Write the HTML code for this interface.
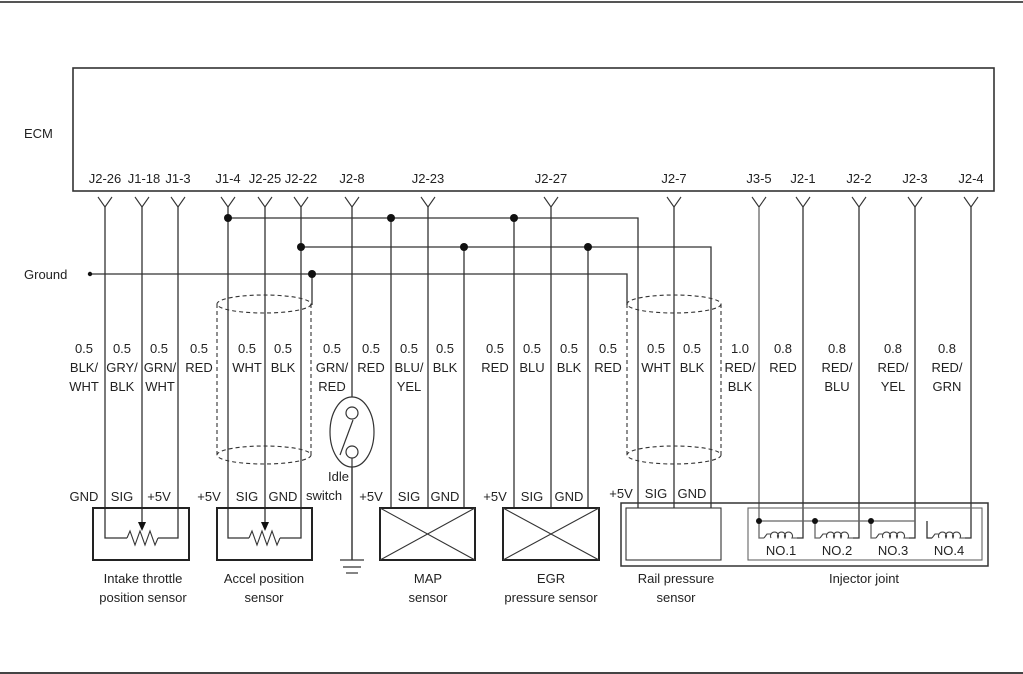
<!DOCTYPE html>
<html><head><meta charset="utf-8"><style>
html,body{margin:0;padding:0;background:#fff;}
svg{display:block;}
text{font-family:"Liberation Sans",sans-serif;font-size:13px;fill:#222;}
</style></head><body>
<svg width="1023" height="674" viewBox="0 0 1023 674" xmlns="http://www.w3.org/2000/svg">
<g stroke="#333" fill="none" stroke-width="1.2">
<line x1="0" y1="2" x2="1023" y2="2" stroke-width="2" stroke="#555"/>
<line x1="0" y1="673" x2="1023" y2="673" stroke-width="2" stroke="#444"/>
<rect x="73" y="68" width="921" height="123" stroke-width="1.6"/>
</g>
<text x="24" y="138">ECM</text>
<g text-anchor="middle">
<text x="105" y="183">J2-26</text><text x="144" y="183">J1-18</text><text x="178" y="183">J1-3</text>
<text x="228" y="183">J1-4</text><text x="265" y="183">J2-25</text><text x="301" y="183">J2-22</text>
<text x="352" y="183">J2-8</text><text x="428" y="183">J2-23</text><text x="551" y="183">J2-27</text>
<text x="674" y="183">J2-7</text><text x="759" y="183">J3-5</text><text x="803" y="183">J2-1</text>
<text x="859" y="183">J2-2</text><text x="915" y="183">J2-3</text><text x="971" y="183">J2-4</text>
</g>
<g stroke="#333" fill="none" stroke-width="1.1">
<path d="M98 197 L105 207 L112 197 M135 197 L142 207 L149 197 M171 197 L178 207 L185 197 M221 197 L228 207 L235 197 M258 197 L265 207 L272 197 M294 197 L301 207 L308 197 M345 197 L352 207 L359 197 M421 197 L428 207 L435 197 M544 197 L551 207 L558 197 M667 197 L674 207 L681 197 M752 197 L759 207 L766 197 M796 197 L803 207 L810 197 M852 197 L859 207 L866 197 M908 197 L915 207 L922 197 M964 197 L971 207 L978 197"/>
</g>
<g stroke="#333" fill="none" stroke-width="1.3">
<path d="M105 207 V538 H127"/>
<path d="M178 207 V538 H158"/>
<path d="M142 207 V524"/>
<path d="M228 207 V538 H249"/>
<path d="M301 207 V538 H280"/>
<path d="M265 207 V524"/>
<path d="M352 207 V560"/>
<path d="M228 218 H638 V508"/>
<path d="M391 218 V508"/>
<path d="M514 218 V508"/>
<path d="M428 207 V508"/>
<path d="M301 247 H711 V508"/>
<path d="M464 247 V508"/>
<path d="M588 247 V508"/>
<path d="M551 207 V508"/>
<path d="M674 207 V508"/>
<path d="M90 274 H627 V305"/>
<path d="M312 274 V305"/>
<path d="M803 207 V538 H797"/>
<path d="M859 207 V538 H853"/>
<path d="M915 207 V538 H909"/>
<path d="M971 207 V538 H965"/>
<path d="M759 207 V538 H764" stroke="#666"/>
<path d="M759 521 H915 M815 521 V538 H820 M871 521 V538 H876" stroke="#666"/>
<path d="M927 521 V538 H932"/>
</g>
<g fill="#111">
<circle cx="90" cy="274" r="2.2"/>
<circle cx="228" cy="218" r="4"/><circle cx="391" cy="218" r="4"/><circle cx="514" cy="218" r="4"/>
<circle cx="301" cy="247" r="4"/><circle cx="464" cy="247" r="4"/><circle cx="588" cy="247" r="4"/>
<circle cx="312" cy="274" r="4"/>
<circle cx="759" cy="521" r="3"/><circle cx="815" cy="521" r="3"/><circle cx="871" cy="521" r="3"/>
</g>
<text x="24" y="279">Ground</text>
<g stroke="#333" fill="none" stroke-width="1.1" stroke-dasharray="4,3">
<ellipse cx="264" cy="304" rx="47" ry="9"/><ellipse cx="264" cy="455" rx="47" ry="9"/>
<line x1="217" y1="304" x2="217" y2="455"/><line x1="311" y1="304" x2="311" y2="455"/>
<ellipse cx="674" cy="304" rx="47" ry="9"/><ellipse cx="674" cy="455" rx="47" ry="9"/>
<line x1="627" y1="304" x2="627" y2="455"/><line x1="721" y1="304" x2="721" y2="455"/>
</g>
<g text-anchor="middle">
<text x="84" y="353">0.5</text><text x="84" y="372">BLK/</text><text x="84" y="391">WHT</text>
<text x="122" y="353">0.5</text><text x="122" y="372">GRY/</text><text x="122" y="391">BLK</text>
<text x="159" y="353">0.5</text><text x="160" y="372">GRN/</text><text x="160" y="391">WHT</text>
<text x="199" y="353">0.5</text><text x="199" y="372">RED</text>
<text x="247" y="353">0.5</text><text x="247" y="372">WHT</text>
<text x="283" y="353">0.5</text><text x="283" y="372">BLK</text>
<text x="332" y="353">0.5</text><text x="332" y="372">GRN/</text><text x="332" y="391">RED</text>
<text x="371" y="353">0.5</text><text x="371" y="372">RED</text>
<text x="409" y="353">0.5</text><text x="409" y="372">BLU/</text><text x="409" y="391">YEL</text>
<text x="445" y="353">0.5</text><text x="445" y="372">BLK</text>
<text x="495" y="353">0.5</text><text x="495" y="372">RED</text>
<text x="532" y="353">0.5</text><text x="532" y="372">BLU</text>
<text x="569" y="353">0.5</text><text x="569" y="372">BLK</text>
<text x="608" y="353">0.5</text><text x="608" y="372">RED</text>
<text x="656" y="353">0.5</text><text x="656" y="372">WHT</text>
<text x="692" y="353">0.5</text><text x="692" y="372">BLK</text>
<text x="740" y="353">1.0</text><text x="740" y="372">RED/</text><text x="740" y="391">BLK</text>
<text x="783" y="353">0.8</text><text x="783" y="372">RED</text>
<text x="837" y="353">0.8</text><text x="837" y="372">RED/</text><text x="837" y="391">BLU</text>
<text x="893" y="353">0.8</text><text x="893" y="372">RED/</text><text x="893" y="391">YEL</text>
<text x="947" y="353">0.8</text><text x="947" y="372">RED/</text><text x="947" y="391">GRN</text>
</g>
<g stroke="#333" fill="none" stroke-width="1.2">
<ellipse cx="352" cy="432" rx="22" ry="35" fill="#fff"/>
<circle cx="352" cy="413" r="6" fill="#fff"/><circle cx="352" cy="452" r="6" fill="#fff"/>
<line x1="353" y1="420" x2="340" y2="455"/>
<line x1="352" y1="458" x2="352" y2="560"/>
<line x1="340" y1="560" x2="364" y2="560"/><line x1="343" y1="567" x2="361" y2="567"/><line x1="346" y1="573" x2="358" y2="573"/>
</g>
<text x="328" y="481" text-anchor="start">Idle</text>
<text x="306" y="500">switch</text>
<g text-anchor="middle">
<text x="84" y="501">GND</text><text x="122" y="501">SIG</text><text x="159" y="501">+5V</text>
<text x="209" y="501">+5V</text><text x="247" y="501">SIG</text><text x="283" y="501">GND</text>
<text x="371" y="501">+5V</text><text x="409" y="501">SIG</text><text x="445" y="501">GND</text>
<text x="495" y="501">+5V</text><text x="532" y="501">SIG</text><text x="569" y="501">GND</text>
<text x="621" y="498">+5V</text><text x="656" y="498">SIG</text><text x="692" y="498">GND</text>
</g>
<g stroke="#222" fill="none" stroke-width="2">
<rect x="93" y="508" width="96" height="52"/>
<rect x="217" y="508" width="95" height="52"/>
<rect x="380" y="508" width="95" height="52"/>
<rect x="503" y="508" width="96" height="52"/>
</g>
<g stroke="#333" fill="none" stroke-width="1.1">
<path d="M380 508 L475 560 M475 508 L380 560"/>
<path d="M503 508 L599 560 M599 508 L503 560"/>
<rect x="621" y="503" width="367" height="63" stroke-width="1.5"/>
<rect x="626" y="508" width="95" height="52"/>
<rect x="748" y="508" width="234" height="52" stroke="#666"/>
<path d="M127 538 l3 -7 l5 14 l5 -14 l5 14 l5 -14 l5 14 l3 -7"/>
<path d="M249 538 l3 -7 l5 14 l5 -14 l5 14 l5 -14 l5 14 l3 -7"/>
</g>
<g fill="#111"><path d="M138 522 L146 522 L142 531 Z"/><path d="M261 522 L269 522 L265 531 Z"/></g>
<g stroke="#444" fill="none" stroke-width="1.1">
<path d="M764 538 l3 -4 h4 m0 4 a4 4 0 1 1 7 0 a4 4 0 1 1 7 0 a4 4 0 1 1 7 0 h4 l1 0"/>
<path d="M820 538 l3 -4 h4 m0 4 a4 4 0 1 1 7 0 a4 4 0 1 1 7 0 a4 4 0 1 1 7 0 h4 l1 0"/>
<path d="M876 538 l3 -4 h4 m0 4 a4 4 0 1 1 7 0 a4 4 0 1 1 7 0 a4 4 0 1 1 7 0 h4 l1 0"/>
<path d="M932 538 l3 -4 h4 m0 4 a4 4 0 1 1 7 0 a4 4 0 1 1 7 0 a4 4 0 1 1 7 0 h4 l1 0"/>
</g>
<g text-anchor="middle">
<text x="781" y="555">NO.1</text><text x="837" y="555">NO.2</text><text x="893" y="555">NO.3</text><text x="949" y="555">NO.4</text>
<text x="143" y="583">Intake throttle</text><text x="143" y="602">position sensor</text>
<text x="264" y="583">Accel position</text><text x="264" y="602">sensor</text>
<text x="428" y="583">MAP</text><text x="428" y="602">sensor</text>
<text x="551" y="583">EGR</text><text x="551" y="602">pressure sensor</text>
<text x="676" y="583">Rail pressure</text><text x="676" y="602">sensor</text>
<text x="864" y="583">Injector joint</text>
</g>
</svg>
</body></html>
